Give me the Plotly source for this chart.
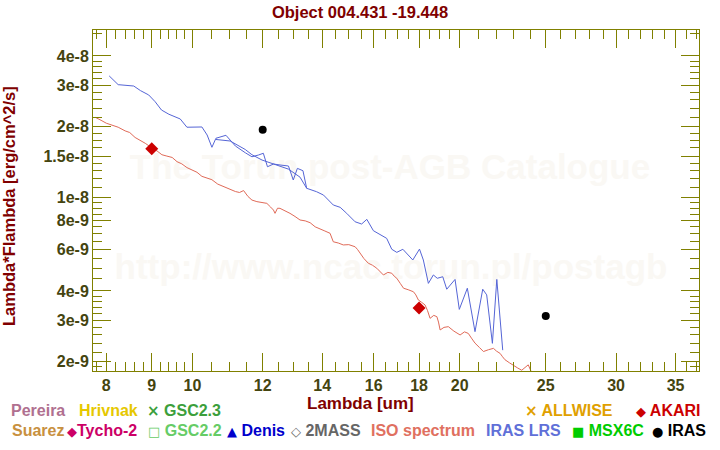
import plotly.graph_objects as go

# ---------------- data ----------------
iso_x = [7.78, 7.85, 7.91, 8.0, 8.12, 8.25, 8.40, 8.50, 8.62, 8.74,
         8.85, 8.93, 9.02, 9.12, 9.24, 9.36, 9.49, 9.61, 9.73, 9.86,
         9.99, 10.12, 10.25, 10.38, 10.52, 10.68, 10.85, 11.0, 11.18, 11.30,
         11.42, 11.55, 11.67, 11.82, 11.97, 12.13, 12.25, 12.34, 12.39, 12.47,
         12.55, 12.70, 12.88, 13.05, 13.22, 13.40, 13.57, 13.75, 13.93, 14.10,
         14.29, 14.35, 14.41, 14.60, 14.79, 15.0, 15.25, 15.35, 15.45, 15.60,
         15.78, 15.95, 16.13, 16.27, 16.41, 16.60, 16.77, 16.88, 16.99, 17.15,
         17.29, 17.50, 17.74, 17.85, 17.97, 18.12, 18.28, 18.40, 18.52, 18.70,
         18.85, 18.93, 19.01, 19.20, 19.42, 19.70, 20.02, 20.25, 20.45, 20.62,
         20.81, 21.05, 21.27, 21.55, 21.83, 22.0, 22.21, 22.35, 22.49, 22.75,
         22.98, 23.25, 23.49, 23.70, 23.89, 24.1]
iso_y = [2.19e-8, 2.16e-8, 2.12e-8, 2.07e-8, 2.03e-8, 1.99e-8, 1.92e-8, 1.89e-8, 1.80e-8, 1.75e-8,
         1.70e-8, 1.66e-8, 1.60e-8, 1.58e-8, 1.52e-8, 1.50e-8, 1.48e-8, 1.42e-8, 1.39e-8, 1.34e-8,
         1.31e-8, 1.28e-8, 1.23e-8, 1.21e-8, 1.19e-8, 1.14e-8, 1.11e-8, 1.09e-8, 1.06e-8, 1.05e-8,
         1.07e-8, 1.01e-8, 9.75e-9, 9.6e-9, 9.55e-9, 9.44e-9, 9.1e-9, 8.84e-9, 8.56e-9, 9.0e-9,
         8.99e-9, 8.8e-9, 8.56e-9, 8.3e-9, 8.02e-9, 7.95e-9, 7.81e-9, 7.5e-9, 7.32e-9, 7.2e-9,
         7.04e-9, 6.7e-9, 6.48e-9, 6.4e-9, 6.28e-9, 6.3e-9, 6.17e-9, 6.0e-9, 5.79e-9, 5.5e-9,
         5.25e-9, 5.15e-9, 5.0e-9, 4.85e-9, 4.68e-9, 4.8e-9, 4.76e-9, 4.62e-9, 4.53e-9, 4.3e-9,
         4.11e-9, 4.05e-9, 3.97e-9, 3.85e-9, 3.66e-9, 3.58e-9, 3.49e-9, 3.3e-9, 3.06e-9, 3.15e-9,
         3.11e-9, 2.95e-9, 2.73e-9, 2.80e-9, 2.82e-9, 2.70e-9, 2.60e-9, 2.68e-9, 2.64e-9, 2.52e-9,
         2.40e-9, 2.30e-9, 2.21e-9, 2.25e-9, 2.28e-9, 2.22e-9, 2.17e-9, 2.10e-9, 2.04e-9, 1.98e-9,
         1.94e-9, 1.88e-9, 1.84e-9, 1.90e-9, 1.94e-9, 1.80e-9]

lrs_a_x = [8.06, 8.25, 8.59, 8.74, 8.93, 9.08, 9.23, 9.41, 9.69, 9.86,
           10.25, 10.39, 10.52, 10.63, 10.91, 11.18, 11.47, 11.67, 11.87, 12.02,
           12.15, 12.34, 12.55, 12.83, 12.99, 13.13, 13.32, 13.45]
lrs_a_y = [3.29e-8, 3.02e-8, 2.98e-8, 2.85e-8, 2.73e-8, 2.555e-8, 2.356e-8, 2.26e-8, 2.158e-8, 1.99e-8,
           1.995e-8, 1.844e-8, 1.635e-8, 1.786e-8, 1.839e-8, 1.656e-8, 1.55e-8, 1.49e-8, 1.516e-8, 1.542e-8,
           1.351e-8, 1.388e-8, 1.375e-8, 1.361e-8, 1.187e-8, 1.33e-8, 1.30e-8, 1.094e-8]

lrs_b_x = [10.63, 11.03, 11.47, 11.67, 11.98, 12.39, 12.83, 13.22, 13.45, 13.80,
           14.05, 14.41, 14.67, 14.92, 15.25, 15.51, 15.72, 15.99, 16.27, 16.55,
           16.77, 16.99, 17.26, 17.71, 18.02, 18.20, 18.44, 18.68, 18.87, 19.14,
           19.34, 19.76, 19.98, 20.40, 20.81, 21.23, 21.45, 21.77, 22.02, 22.36]
lrs_b_y = [1.765e-8, 1.739e-8, 1.60e-8, 1.52e-8, 1.443e-8, 1.38e-8, 1.32e-8, 1.22e-8, 1.094e-8, 1.058e-8,
           1.024e-8, 9.29e-9, 9.08e-9, 8.56e-9, 7.88e-9, 7.71e-9, 8.07e-9, 7.22e-9, 6.97e-9, 6.70e-9,
           6.02e-9, 5.84e-9, 6.02e-9, 5.42e-9, 6.03e-9, 5.42e-9, 4.31e-9, 4.68e-9, 4.53e-9, 4.60e-9,
           4.07e-9, 4.48e-9, 3.34e-9, 4.11e-9, 2.685e-9, 4.07e-9, 3.85e-9, 2.395e-9, 4.48e-9, 2.24e-9]

iras_x = [12, 25]
iras_y = [1.94e-8, 3.13e-9]
akari_x = [9, 18]
akari_y = [1.61e-8, 3.39e-9]

x_major = [8, 9, 10, 12, 14, 16, 18, 20, 25, 30, 35]
x_major_text = ["8", "9", "10", "12", "14", "16", "18", "20", "25", "30", "35"]
x_minor = [7.8, 8.2, 8.4, 8.6, 8.8, 9.2, 9.4, 9.6, 9.8, 10.5, 11, 11.5, 12.5, 13, 13.5,
           14.5, 15, 15.5, 16.5, 17, 17.5, 18.5, 19, 19.5, 21, 22, 23, 24, 26, 27, 28, 29,
           31, 32, 33, 34, 36, 37]
y_major = [2e-9, 3e-9, 4e-9, 6e-9, 8e-9, 1e-8, 1.5e-8, 2e-8, 3e-8, 4e-8]
y_major_text = ["2e-9", "3e-9", "4e-9", "6e-9", "8e-9", "1e-8", "1.5e-8", "2e-8", "3e-8", "4e-8"]
y_minor = [1.9e-9, 2.2e-9, 2.4e-9, 2.6e-9, 2.8e-9, 3.2e-9, 3.4e-9, 3.6e-9, 3.8e-9,
           4.5e-9, 5e-9, 5.5e-9, 6.5e-9, 7e-9, 7.5e-9, 8.5e-9, 9e-9, 9.5e-9,
           1.1e-8, 1.2e-8, 1.3e-8, 1.4e-8, 1.625e-8, 1.75e-8, 1.875e-8,
           2.2e-8, 2.4e-8, 2.6e-8, 2.8e-8, 3.2e-8, 3.4e-8, 3.6e-8, 3.8e-8, 5e-8]

legend_row1 = [("Pereira", "", 10, "#b07090"), ("Hrivnak", "", 78, "#e6c800"),
               ("GSC2.3", "×", 146, "#3c9f3c"), ("ALLWISE", "×", 524, "#e0a000"),
               ("AKARI", "◆", 635, "#cc0000")]
legend_row2 = [("Suarez", "", 11, "#c89040"), ("Tycho-2", "◆", 66, "#cc0066"),
               ("GSC2.2", "□", 147, "#66cc66"), ("Denis", "▲", 226, "#0000cc"),
               ("2MASS", "◇", 290, "#666666"), ("ISO spectrum", "", 370, "#e07060"),
               ("IRAS LRS", "", 485, "#6070d8"), ("MSX6C", "■", 571, "#00cc00"),
               ("IRAS", "●", 651, "#000000")]

# ---------------- layout geometry ----------------
W, H = 720, 450
L, R, T, B = 93, 21, 30, 79
PW, PH = W - L - R, H - T - B


def paper(xp, yp):
    return (xp - L) / PW, (H - B - yp) / PH


ISO_COL = "#e06a58"
LRS_COL = "#5565d6"
AXIS_COL = "#808000"
TICK_COL = "#44440f"
TITLE_COL = "#800000"
FONT = "Liberation Sans, Arial, sans-serif"

fig = go.Figure()
fig.add_trace(go.Scatter(x=iso_x, y=iso_y, mode="lines", line=dict(color=ISO_COL, width=1),
                         showlegend=False, hoverinfo="skip"))
fig.add_trace(go.Scatter(x=lrs_a_x, y=lrs_a_y, mode="lines", line=dict(color=LRS_COL, width=1),
                         showlegend=False, hoverinfo="skip"))
fig.add_trace(go.Scatter(x=lrs_b_x, y=lrs_b_y, mode="lines", line=dict(color=LRS_COL, width=1),
                         showlegend=False, hoverinfo="skip"))
fig.add_trace(go.Scatter(x=akari_x, y=akari_y, mode="markers",
                         marker=dict(symbol="diamond", size=10, color="#cc0000"),
                         showlegend=False, hoverinfo="skip"))
fig.add_trace(go.Scatter(x=iras_x, y=iras_y, mode="markers",
                         marker=dict(symbol="circle", size=8, color="#000000"),
                         showlegend=False, hoverinfo="skip"))

axis_common = dict(
    type="log", showgrid=False, zeroline=False, showline=True, linecolor=AXIS_COL, linewidth=1,
    mirror="allticks", ticks="inside", ticklen=18, tickwidth=1, tickcolor=AXIS_COL,
    tickfont=dict(family=FONT, size=16, color=TICK_COL, weight="bold"),
    tickmode="array", automargin=False,
)

fig.update_xaxes(**axis_common, range=[0.8881, 1.5705], tickvals=x_major, ticktext=x_major_text,
                 minor=dict(tickmode="array", tickvals=x_minor, ticks="inside", ticklen=9,
                            tickwidth=1, tickcolor=AXIS_COL, showgrid=False))
fig.update_yaxes(**axis_common, range=[-8.7384, -7.2874], tickvals=y_major, ticktext=y_major_text,
                 minor=dict(tickmode="array", tickvals=y_minor, ticks="inside", ticklen=9,
                            tickwidth=1, tickcolor=AXIS_COL, showgrid=False))

# watermark as shape labels drawn below the traces
shapes = []
for text, xc, yc in [("The Torun post-AGB Catalogue", 390, 163),
                     ("http://www.ncac.torun.pl/postagb", 391, 263)]:
    px_, py_ = paper(xc, yc)
    shapes.append(dict(type="rect", xref="paper", yref="paper", layer="below",
                       x0=px_ - 0.4, x1=px_ + 0.4, y0=py_ - 0.05, y1=py_ + 0.05,
                       line=dict(width=0), fillcolor="rgba(0,0,0,0)",
                       label=dict(text=text, textposition="middle center",
                                  font=dict(family=FONT, size=35, color="#faf8f4",
                                            weight="bold"))))

annotations = []
# axis titles
px_, py_ = paper(360, 404)
annotations.append(dict(text="Lambda [um]", x=px_, y=py_, xref="paper", yref="paper",
                        showarrow=False, xanchor="center", yanchor="middle",
                        font=dict(family=FONT, size=17, color=TITLE_COL, weight="bold")))
px_, py_ = paper(9, 206)
annotations.append(dict(text="Lambda*Flambda [erg/cm^2/s]", x=px_, y=py_, xref="paper",
                        yref="paper", showarrow=False, xanchor="center", yanchor="middle",
                        textangle=-90,
                        font=dict(family=FONT, size=16.5, color=TITLE_COL, weight="bold")))
# legend texts
for row, yc in [(legend_row1, 411), (legend_row2, 430)]:
    for label, sym, xl, col in row:
        if sym:
            sep = "" if label == "Tycho-2" else " "
            sym_size = 15 if sym == "×" else 13
            txt = ('<span style="font-family:\'DejaVu Sans\';font-size:%dpx">%s</span>%s%s'
                   % (sym_size, sym, sep, label))
        else:
            txt = label
        px_, py_ = paper(xl, yc)
        annotations.append(dict(text=txt, x=px_, y=py_, xref="paper", yref="paper",
                                showarrow=False, xanchor="left", yanchor="middle", borderpad=0,
                                font=dict(family=FONT, size=16, color=col, weight="bold")))

fig.update_layout(
    width=W, height=H,
    margin=dict(l=L, r=R, t=T, b=B, pad=0, autoexpand=False),
    paper_bgcolor="white", plot_bgcolor="white",
    title=dict(text="Object 004.431 -19.448", x=0.5, xanchor="center", y=1 - 12 / H,
               yanchor="middle", font=dict(family=FONT, size=16.5, color=TITLE_COL, weight="bold")),
    annotations=annotations,
    shapes=shapes,
    showlegend=False,
)

fig.write_html("out.html", config={"displayModeBar": False},
               post_script="document.body.style.margin='0';")
